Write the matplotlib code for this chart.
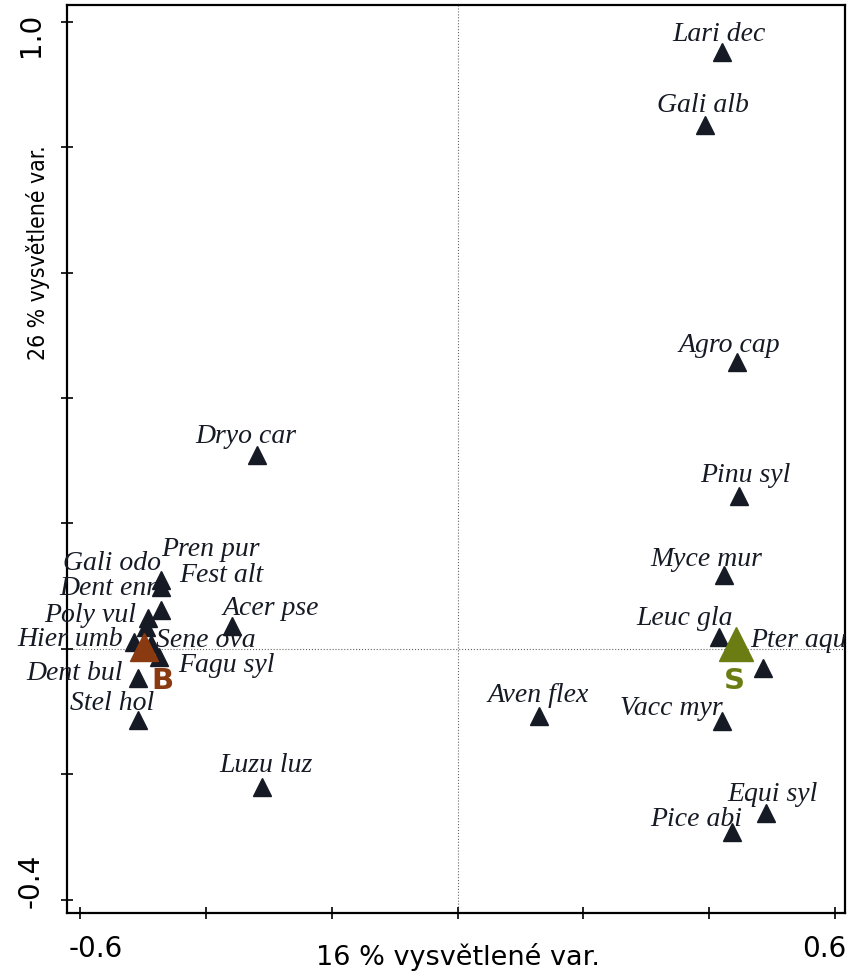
import matplotlib
matplotlib.use("Agg")
import matplotlib.pyplot as plt
import matplotlib.transforms as mtransforms

# species scores (axis 1, axis 2)
species = ["Lari dec", "Gali alb", "Agro cap", "Pinu syl", "Myce mur", "Leuc gla",
           "Pter aqu", "Vacc myr", "Aven flex", "Equi syl", "Pice abi", "Dryo car",
           "Acer pse", "Luzu luz", "Pren pur", "Gali odo", "Fest alt", "Dent enn",
           "Poly vul", "Hier umb", "Sene ova", "Fagu syl", "Dent bul", "Stel hol"]
ax1 = [0.421, 0.394, 0.445, 0.448, 0.424, 0.415,
       0.486, 0.421, 0.130, 0.491, 0.437, -0.319,
       -0.358, -0.311, -0.471, -0.471, -0.471, -0.493,
       -0.495, -0.514, -0.488, -0.474, -0.508, -0.508]
ax2 = [0.952, 0.836, 0.458, 0.244, 0.118, 0.018,
       -0.030, -0.115, -0.107, -0.262, -0.292, 0.309,
       0.037, -0.220, 0.110, 0.099, 0.062, 0.049,
       0.035, 0.010, 0.008, -0.013, -0.046, -0.113]

# centroids of the two groups
groups = ["B", "S"]
grp_x = [-0.498, 0.442]
grp_y = [0.003, 0.007]

xlabel = "16 % vysvětlené var."
ylabel = "26 % vysvětlené var."

# label offsets in pixels (label placement only)
lab_off = {"Lari dec": (-3, 11), "Gali alb": (-2, 13), "Agro cap": (-8, 10),
           "Pinu syl": (6, 14), "Myce mur": (-18, 9), "Leuc gla": (-34, 12),
           "Pter aqu": (35, 21), "Vacc myr": (-51, 6), "Aven flex": (-1, 14),
           "Equi syl": (6, 12), "Pice abi": (-36, 6), "Dryo car": (-11, 12),
           "Acer pse": (38, 11), "Luzu luz": (4, 15), "Pren pur": (49, 24),
           "Gali odo": (-49, 17), "Fest alt": (60, 28), "Dent enn": (-38, 23),
           "Poly vul": (-56, 5), "Hier umb": (-64, -4), "Sene ova": (55, -3),
           "Fagu syl": (67, -15), "Dent bul": (-64, -2), "Stel hol": (-26, 10)}
grp_colors = {"B": "#8a3a10", "S": "#6b7d12"}
grp_ms = {"B": 20, "S": 25}
grp_off = {"B": (18, -34), "S": (-1, -37)}

fig = plt.figure(figsize=(8.48, 9.75), dpi=100)
ax = fig.add_axes([0.079, 0.0636, 0.9175, 0.9313])

ax.axvline(0, color="#666666", lw=0.8, ls=":", zorder=1)
ax.axhline(0, color="#666666", lw=0.8, ls=":", zorder=1)

ax.plot(ax1, ax2, ls="none", marker="^", ms=13, color="#151a24", zorder=3)
for name, x, y in zip(species, ax1, ax2):
    dx, dy = lab_off[name]
    ax.annotate(name, (x, y), xytext=(dx, dy), textcoords="offset pixels",
                ha="center", va="baseline", fontsize=20, style="italic",
                family="Liberation Serif", color="#151a24", zorder=4,
                annotation_clip=False)

for g, x, y in zip(groups, grp_x, grp_y):
    ax.plot(x, y, ls="none", marker="^", ms=grp_ms[g], color=grp_colors[g], zorder=5)
    dx, dy = grp_off[g]
    ax.annotate(g, (x, y), xytext=(dx, dy), textcoords="offset pixels",
                ha="center", va="center", fontsize=21, fontweight="bold",
                color=grp_colors[g], zorder=5)

ax.set_xlim(-0.621, 0.616)
ax.set_ylim(-0.4215, 1.027)

ax.set_xticks([-0.6, -0.4, -0.2, 0, 0.2, 0.4, 0.6])
ax.set_xticklabels(["-0.6", "", "", "", "", "", "0.6"], fontsize=20)
ax.set_yticks([-0.4, -0.2, 0, 0.2, 0.4, 0.6, 0.8, 1.0])
ax.set_yticklabels(["-0.4", "", "", "", "", "", "", "1.0"], fontsize=20,
                   rotation=90)
ax.tick_params(direction="inout", length=8, width=1.2, pad=12)

xl = ax.get_xticklabels()
xl[0].set_ha("left")
xl[0].set_transform(xl[0].get_transform() + mtransforms.ScaledTranslation(-12 / 100, 0, fig.dpi_scale_trans))
xl[-1].set_ha("right")
xl[-1].set_transform(xl[-1].get_transform() + mtransforms.ScaledTranslation(11 / 100, 0, fig.dpi_scale_trans))
yl = ax.get_yticklabels()
for t in yl:
    t.set_va("center")
yl[0].set_va("bottom")
yl[0].set_transform(yl[0].get_transform() + mtransforms.ScaledTranslation(0, -8 / 100, fig.dpi_scale_trans))
yl[-1].set_va("top")
yl[-1].set_transform(yl[-1].get_transform() + mtransforms.ScaledTranslation(0, 9 / 100, fig.dpi_scale_trans))

for s in ax.spines.values():
    s.set_linewidth(1.6)

ax.set_xlabel(xlabel, fontsize=19.5, va="center")
ax.xaxis.set_label_coords(0.502, -0.049)
ax.set_ylabel(ylabel, fontsize=16.5, va="center", family="DejaVu Sans",
              fontstretch="condensed")
ax.yaxis.set_label_coords(-0.037, 0.727)

fig.savefig("out.png", dpi=100)
